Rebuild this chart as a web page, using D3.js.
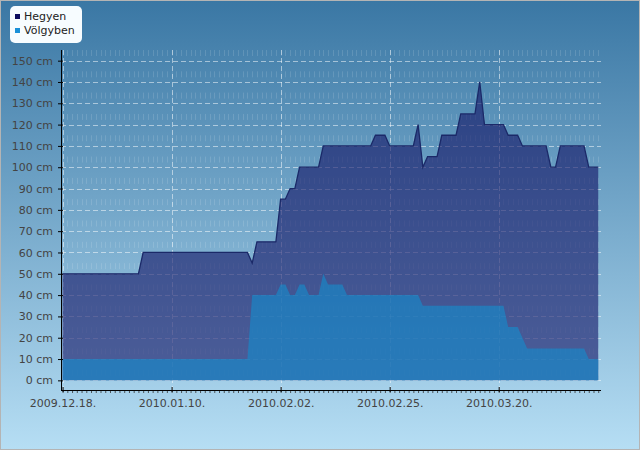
<!DOCTYPE html>
<html>
<head>
<meta charset="utf-8">
<script src="https://cdn.jsdelivr.net/npm/d3@7"></script>
<style>
  body { margin: 0; }
  svg { display: block; font-family: "DejaVu Sans", sans-serif; }
</style>
</head>
<body>
<div id="chart"></div>
<script>
// daily snow depth (cm), first day 2009.12.18.
var startDate = new Date(2009, 11, 18);
var hegyen = [
    50, 50, 50, 50, 50, 50, 50, 50, 50, 50, 50, 50, 50, 50, 50, 50, 50,
    60, 60, 60, 60, 60, 60, 60, 60, 60, 60, 60, 60, 60, 60, 60, 60, 60, 60, 60, 60, 60, 60, 60,
    55, 65, 65, 65, 65, 65, 85, 85, 90, 90,
    100, 100, 100, 100, 100,
    110, 110, 110, 110, 110, 110, 110, 110, 110, 110, 110,
    115, 115, 115, 110, 110, 110, 110, 110, 110,
    120, 100, 105, 105, 105, 115, 115, 115, 115, 125, 125, 125, 125,
    140, 120, 120, 120, 120, 120, 115, 115, 115,
    110, 110, 110, 110, 110, 110, 100, 100,
    110, 110, 110, 110, 110, 110, 100, 100, 100
];
var volgyben = [
    10, 10, 10, 10, 10, 10, 10, 10, 10, 10, 10, 10, 10, 10, 10, 10, 10, 10, 10, 10,
    10, 10, 10, 10, 10, 10, 10, 10, 10, 10, 10, 10, 10, 10, 10, 10, 10, 10, 10, 10,
    40, 40, 40, 40, 40, 40, 45, 45, 40, 40, 45, 45, 40, 40, 40,
    50, 45, 45, 45, 45,
    40, 40, 40, 40, 40, 40, 40, 40, 40, 40, 40, 40, 40, 40, 40, 40,
    35, 35, 35, 35, 35, 35, 35, 35, 35, 35, 35, 35, 35, 35, 35, 35, 35, 35,
    25, 25, 25, 20,
    15, 15, 15, 15, 15, 15, 15, 15, 15, 15, 15, 15, 15,
    10, 10, 10
];
var seriesNames = ["Hegyen", "Völgyben"];
var xTickDates = [new Date(2009, 11, 18), new Date(2010, 0, 10), new Date(2010, 1, 2),
                  new Date(2010, 1, 25), new Date(2010, 2, 20)];
var yTicks = [0, 10, 20, 30, 40, 50, 60, 70, 80, 90, 100, 110, 120, 130, 140, 150];

var width = 640, height = 450;
var dates = hegyen.map(function (v, i) { return d3.timeDay.offset(startDate, i); });
var lastDate = dates[dates.length - 1];

var svg = d3.select("#chart").append("svg")
    .attr("width", width)
    .attr("height", height);

var defs = svg.append("defs");
var bg = defs.append("linearGradient").attr("id", "bg")
    .attr("x1", 0).attr("y1", 0).attr("x2", 0).attr("y2", 1);
bg.append("stop").attr("offset", "0%").attr("stop-color", "#3a77a4");
bg.append("stop").attr("offset", "100%").attr("stop-color", "#b6def4");

svg.append("rect")
    .attr("x", 0.5).attr("y", 0.5)
    .attr("width", width - 1).attr("height", height - 1)
    .attr("fill", "url(#bg)")
    .attr("stroke", "#b4b4b4");

var x = d3.scaleTime()
    .domain([d3.timeHour.offset(startDate, -8), d3.timeHour.offset(lastDate, 14)])
    .range([61, 601]);
var y = d3.scaleLinear()
    .domain([-5, 155])
    .range([391, 50]);

// minor vertical grid, one per day
var days = d3.timeDay.range(startDate, d3.timeDay.offset(lastDate, 1));
var tenCm = y(0) - y(10);
svg.append("g").selectAll("line")
    .data(days)
    .enter().append("line")
    .attr("x1", function (d) { return Math.round(x(d)) + 0.5; })
    .attr("x2", function (d) { return Math.round(x(d)) + 0.5; })
    .attr("y1", 50).attr("y2", y(0))
    .attr("stroke", "#ffffff")
    .attr("stroke-opacity", 0.13)
    .attr("stroke-dasharray", "6," + (tenCm - 6))
    .attr("stroke-dashoffset", 0);

// major grid
svg.append("g").selectAll("line")
    .data(yTicks)
    .enter().append("line")
    .attr("x1", 61).attr("x2", 601)
    .attr("y1", function (d) { return Math.round(y(d)) + 0.5; })
    .attr("y2", function (d) { return Math.round(y(d)) + 0.5; })
    .attr("stroke", "#ffffff")
    .attr("stroke-opacity", 0.5)
    .attr("stroke-dasharray", "5,3");

svg.append("g").selectAll("line")
    .data(xTickDates)
    .enter().append("line")
    .attr("x1", function (d) { return Math.round(x(d)) + 0.5; })
    .attr("x2", function (d) { return Math.round(x(d)) + 0.5; })
    .attr("y1", 50).attr("y2", 391)
    .attr("stroke", "#ffffff")
    .attr("stroke-opacity", 0.5)
    .attr("stroke-dasharray", "5,3");

// areas
var hegyenArea = d3.area()
    .x(function (d, i) { return x(dates[i]); })
    .y0(y(0))
    .y1(function (d) { return y(d); });
var hegyenLine = d3.line()
    .x(function (d, i) { return x(dates[i]); })
    .y(function (d) { return y(d); });

svg.append("path")
    .datum(hegyen)
    .attr("d", hegyenArea)
    .attr("fill", "rgb(18,18,100)")
    .attr("fill-opacity", 0.6);
svg.append("path")
    .datum(hegyen)
    .attr("d", hegyenLine)
    .attr("fill", "none")
    .attr("stroke", "#1b2968")
    .attr("stroke-width", 1.3);

svg.append("path")
    .datum(volgyben)
    .attr("d", hegyenArea)
    .attr("fill", "rgb(20,140,205)")
    .attr("fill-opacity", 0.62);

// axes
var yAxis = svg.append("g")
    .attr("transform", "translate(61,0)")
    .call(d3.axisLeft(y).tickValues(yTicks).tickSize(3).tickPadding(5)
        .tickFormat(function (d) { return d + " cm"; }));
yAxis.select(".domain").remove();
yAxis.selectAll(".tick line").attr("x2", 2).attr("x1", -3).attr("stroke", "#000");
yAxis.selectAll("text")
    .attr("font-size", 11)
    .attr("fill", "#444")
    .attr("font-family", "DejaVu Sans");
yAxis.selectAll(".tick text").attr("x", -8);

svg.append("line")
    .attr("x1", 61.5).attr("x2", 61.5)
    .attr("y1", 50).attr("y2", 391)
    .attr("stroke", "#000");

var xMinor = svg.append("g")
    .attr("transform", "translate(0,390)")
    .call(d3.axisBottom(x).tickValues(days).tickSize(3).tickFormat(""));
xMinor.select(".domain").remove();
xMinor.selectAll(".tick line").attr("stroke", "#333").attr("stroke-opacity", 0.8);

var xAxis = svg.append("g")
    .attr("transform", "translate(0,390)")
    .call(d3.axisBottom(x).tickValues(xTickDates).tickSize(3).tickPadding(6)
        .tickFormat(d3.timeFormat("%Y.%m.%d.")));
xAxis.select(".domain").remove();
xAxis.selectAll(".tick line").attr("y1", -3).attr("y2", 2).attr("stroke", "#000");
xAxis.selectAll("text")
    .attr("font-size", 11)
    .attr("fill", "#444")
    .attr("font-family", "DejaVu Sans");

svg.append("line")
    .attr("x1", 61).attr("x2", 601)
    .attr("y1", 390.5).attr("y2", 390.5)
    .attr("stroke", "#000");

// legend
var legend = svg.append("g");
legend.append("rect")
    .attr("x", 10).attr("y", 6)
    .attr("width", 72).attr("height", 37)
    .attr("rx", 5)
    .attr("fill", "#f7fcff");
var legendColors = ["#0c0c5e", "#1a90d8"];
var item = legend.selectAll(".item")
    .data(seriesNames)
    .enter().append("g")
    .attr("transform", function (d, i) { return "translate(15," + (14 + i * 14) + ")"; });
item.append("rect")
    .attr("width", 5).attr("height", 5)
    .attr("fill", function (d, i) { return legendColors[i]; });
item.append("text")
    .attr("x", 9).attr("y", 6)
    .attr("font-size", 11)
    .attr("fill", "#222")
    .text(function (d) { return d; });
</script>
</body>
</html>
